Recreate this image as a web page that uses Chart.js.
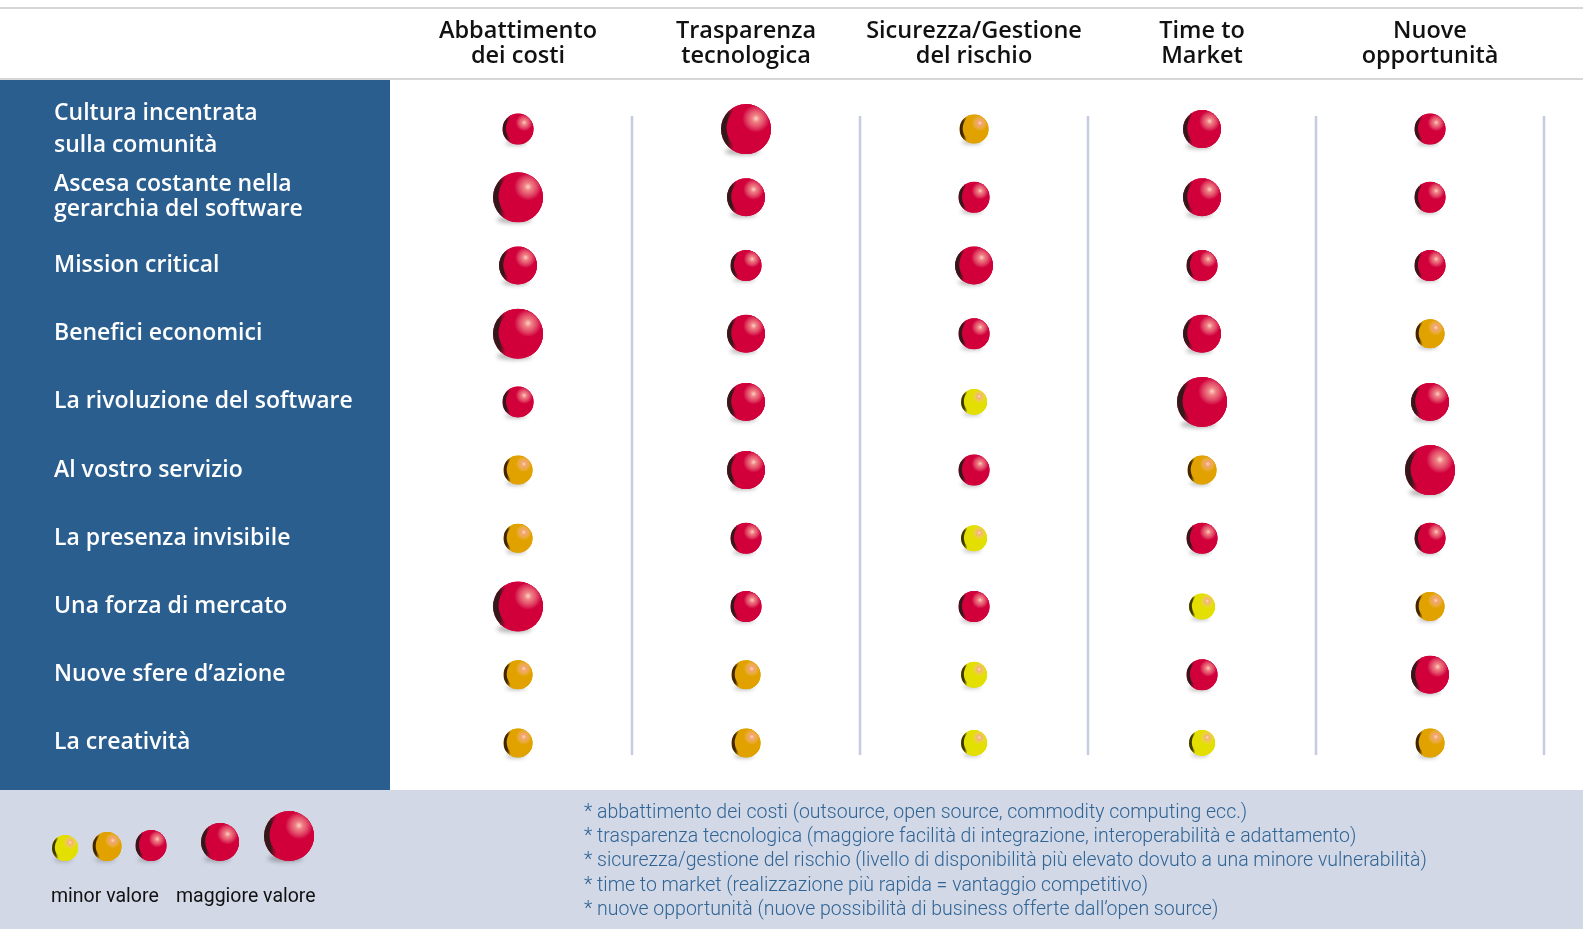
<!DOCTYPE html>
<html lang="it">
<head>
<meta charset="utf-8">
<title>Open source: valore per area</title>
<script src="https://cdn.jsdelivr.net/npm/chart.js@4.4.1/dist/chart.umd.min.js"></script>
<style>
  html, body { margin: 0; padding: 0; background: #fff; }
  #wrap { position: relative; width: 1583px; height: 929px; overflow: hidden; }
  #chart { position: absolute; left: 0; top: 0; }
  #notes { position: absolute; left: 584px; top: 800px; font: 300 19.5px Roboto, sans-serif; color: #2f6495; line-height: 24.2px; white-space: nowrap; }
  .legend-label { position: absolute; top: 884px; font: 400 19.5px Roboto, sans-serif; color: #111; white-space: nowrap; }
</style>
</head>
<body>
<div id="wrap">
  <canvas id="chart" width="1583" height="929"></canvas>
  <div id="notes"></div>
  <span class="legend-label" style="left:51px">minor valore</span>
  <span class="legend-label" style="left:176px">maggiore valore</span>
</div>
<script>
// righe e colonne della matrice
const rows = [
  ["Cultura incentrata", "sulla comunità"],
  ["Ascesa costante nella", "gerarchia del software"],
  "Mission critical",
  "Benefici economici",
  "La rivoluzione del software",
  "Al vostro servizio",
  "La presenza invisibile",
  "Una forza di mercato",
  "Nuove sfere d’azione",
  "La creatività"
];
const columns = [
  ["Abbattimento", "dei costi"],
  ["Trasparenza", "tecnologica"],
  ["Sicurezza/Gestione", "del rischio"],
  ["Time to", "Market"],
  ["Nuove", "opportunità"]
];

// livello 1 = minor valore ... 5 = maggiore valore (una voce per riga)
const abbattimentoCosti = [3, 5, 4, 5, 3, 2, 2, 5, 2, 2];
const trasparenzaTecnologica = [5, 4, 3, 4, 4, 4, 3, 3, 2, 2];
const sicurezzaRischio = [2, 3, 4, 3, 1, 3, 1, 3, 1, 1];
const timeToMarket = [4, 4, 3, 4, 5, 2, 3, 1, 3, 1];
const nuoveOpportunita = [3, 3, 3, 2, 4, 5, 3, 2, 4, 2];

const legendLevels = [1, 2, 3, 4, 5];

const footnotes = [
  "* abbattimento dei costi (outsource, open source, commodity computing ecc.)",
  "* trasparenza tecnologica (maggiore facilità di integrazione, interoperabilità e adattamento)",
  "* sicurezza/gestione del rischio (livello di disponibilità più elevato dovuto a una minore vulnerabilità)",
  "* time to market (realizzazione più rapida = vantaggio competitivo)",
  "* nuove opportunità (nuove possibilità di business offerte dall’open source)"
];

// stile delle sfere per livello
const ballRadius = [13, 14.5, 15.5, 19, 25];
const ballColor = ["#e3df00", "#e1a200", "#d1003b", "#d1003b", "#d1003b"];
const ballShade = ["#3e3800", "#3f2606", "#33191a", "#33191a", "#33191a"];

document.getElementById("notes").innerHTML = footnotes.map(t => `<div>${t}</div>`).join("");

const series = [abbattimentoCosti, trasparenzaTecnologica, sicurezzaRischio, timeToMarket, nuoveOpportunita];
const points = [];
series.forEach((levels, c) => {
  levels.forEach((lv, r) => points.push({ x: c, y: r, r: ballRadius[lv - 1], lv }));
});

function ballShadow(ctx, x, y, r) {
  ctx.save();
  ctx.filter = "blur(2px)";
  ctx.fillStyle = "rgba(70,70,70,0.4)";
  ctx.beginPath();
  ctx.ellipse(x - r * 0.15, y + r * 0.9, r * 0.7, r * 0.15, 0, 0, Math.PI * 2);
  ctx.fill();
  ctx.restore();
}

function ballShine(ctx, x, y, r, lv) {
  const base = ballColor[lv - 1];
  ctx.save();
  ctx.beginPath();
  ctx.arc(x, y, r, 0, Math.PI * 2);
  ctx.clip();
  // bordo scuro a sinistra
  const g = ctx.createLinearGradient(x - r, 0, x - r * 0.5, 0);
  g.addColorStop(0, ballShade[lv - 1]);
  g.addColorStop(0.5, ballShade[lv - 1]);
  g.addColorStop(1, base);
  ctx.fillStyle = g;
  ctx.fillRect(x - r, y - r, r * 2, r * 2);
  ctx.fillStyle = base;
  ctx.beginPath();
  ctx.arc(x + r * 0.18, y - r * 0.04, r * 0.96, 0, Math.PI * 2);
  ctx.fill();
  // riflesso in alto a destra
  const hx = x + r * 0.4, hy = y - r * 0.42;
  const h = ctx.createRadialGradient(hx, hy, 0, hx, hy, r * 0.55);
  h.addColorStop(0, "rgba(255,225,210,0.95)");
  h.addColorStop(0.3, "rgba(248,165,150,0.75)");
  h.addColorStop(1, "rgba(255,200,190,0)");
  ctx.fillStyle = h;
  ctx.fillRect(x - r, y - r, r * 2, r * 2);
  ctx.restore();
}

const tablePlugin = {
  id: "tableDecor",
  beforeDraw(chart) {
    const { ctx, width, height } = chart;
    ctx.save();
    ctx.fillStyle = "#fff";
    ctx.fillRect(0, 0, width, height);
    ctx.fillStyle = "#d6d6d6";
    ctx.fillRect(0, 7, width, 2);
    ctx.fillRect(0, 78, width, 2);
    ctx.fillStyle = "#2a5e8f";
    ctx.fillRect(0, 80, 390, 710);
    ctx.fillStyle = "#d2d8e6";
    ctx.fillRect(0, 790, width, height - 790);
    ctx.restore();
  },
  beforeDatasetsDraw(chart) {
    const { ctx, chartArea } = chart;
    const xs = chart.scales.x;
    ctx.save();
    ctx.strokeStyle = "#c3cce1";
    ctx.lineWidth = 2.5;
    for (let i = 0; i < columns.length; i++) {
      const px = xs.getPixelForValue(i + 0.5);
      ctx.beginPath();
      ctx.moveTo(px, chartArea.top + 21);
      ctx.lineTo(px, chartArea.bottom - 22);
      ctx.stroke();
    }
    ctx.restore();
    chart.getDatasetMeta(0).data.forEach(el => {
      ballShadow(ctx, el.x, el.y, el.options.radius);
    });
  },
  afterDatasetsDraw(chart) {
    const { ctx } = chart;
    chart.getDatasetMeta(0).data.forEach((el, i) => {
      ballShine(ctx, el.x, el.y, el.options.radius, points[i].lv);
    });
  },
  afterDraw(chart) {
    // legenda: sfere allineate in basso
    const { ctx } = chart;
    const legendX = [65, 107, 151, 220, 289];
    legendLevels.forEach((lv, i) => {
      const r = ballRadius[lv - 1];
      const cy = 861 - r;
      ballShadow(ctx, legendX[i], cy, r);
      ctx.fillStyle = ballColor[lv - 1];
      ctx.beginPath();
      ctx.arc(legendX[i], cy, r, 0, Math.PI * 2);
      ctx.fill();
      ballShine(ctx, legendX[i], cy, r, lv);
    });
  }
};

new Chart(document.getElementById("chart"), {
  type: "bubble",
  data: {
    datasets: [{
      data: points,
      backgroundColor: c => ballColor[c.raw.lv - 1],
      borderWidth: 0
    }]
  },
  options: {
    responsive: false,
    animation: false,
    events: [],
    layout: { padding: { left: 54, right: 39, top: 0, bottom: 152 } },
    plugins: { legend: { display: false }, tooltip: { enabled: false } },
    scales: {
      x: {
        type: "linear",
        position: "top",
        min: -0.5,
        max: 4.5,
        grid: { display: false, drawTicks: false },
        border: { display: false },
        afterBuildTicks: s => { s.ticks = columns.map((_, i) => ({ value: i })); },
        afterFit: s => { s.height = 95; },
        ticks: {
          padding: 26,
          color: "#111",
          font: { family: '"Open Sans", sans-serif', size: 23.5, weight: "600", lineHeight: 1.06 },
          maxRotation: 0,
          callback: v => columns[v]
        }
      },
      y: {
        type: "linear",
        position: "left",
        min: -0.5,
        max: 9.5,
        reverse: true,
        grid: { display: false, drawTicks: false },
        border: { display: false },
        afterBuildTicks: s => { s.ticks = rows.map((_, i) => ({ value: i })); },
        afterFit: s => { s.width = 350; },
        ticks: {
          crossAlign: "far",
          color: "#fff",
          font: c => ({ family: '"Open Sans", sans-serif', size: 23, weight: "600", lineHeight: c.index === 0 ? 1.4 : 1.08 }),
          callback: v => rows[v]
        }
      }
    }
  },
  plugins: [tablePlugin]
});
</script>
</body>
</html>
